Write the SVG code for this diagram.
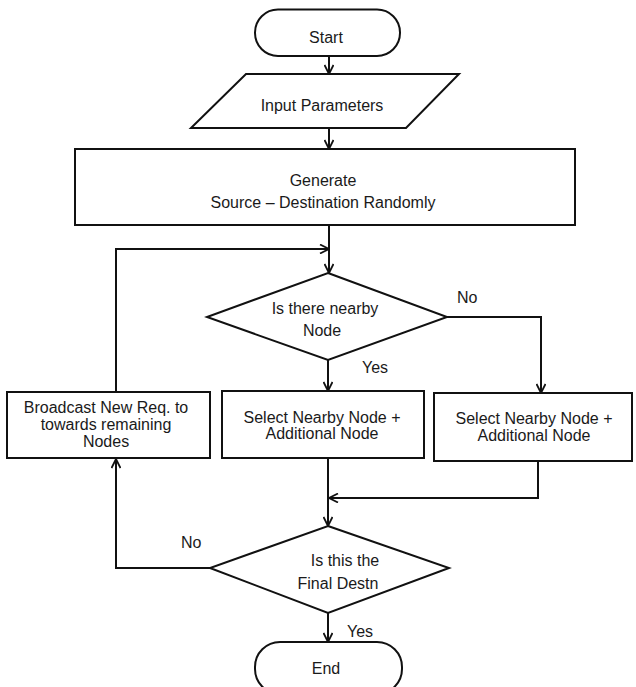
<svg xmlns="http://www.w3.org/2000/svg" width="636" height="687" viewBox="0 0 636 687">
<style>
.shape{fill:#fff;stroke:#111;stroke-width:2}
.conn{fill:none;stroke:#111;stroke-width:2}
text{font-family:"Liberation Sans",Arial,sans-serif;font-size:16px;fill:#1a1a1a;text-anchor:middle}
.lbl{text-anchor:start}
</style>
<defs>
<marker id="arr" viewBox="0 0 10 10" refX="10" refY="5" markerWidth="10" markerHeight="10" markerUnits="userSpaceOnUse" orient="auto">
<path d="M1,0.5 L10,5 L1,9.5" fill="none" stroke="#111" stroke-width="1.8"/>
</marker>
</defs>
<rect width="636" height="687" fill="#fff"/>
<g id="connectors">
<line class="conn" x1="329" y1="56" x2="329" y2="74" marker-end="url(#arr)"/>
<line class="conn" x1="329" y1="128" x2="329" y2="149" marker-end="url(#arr)"/>
<line class="conn" x1="329" y1="225" x2="329" y2="273" marker-end="url(#arr)"/>
<path class="conn" d="M116,392 V249 H329" marker-end="url(#arr)"/>
<line class="conn" x1="328" y1="360" x2="328" y2="391" marker-end="url(#arr)"/>
<path class="conn" d="M447,317 H541 V393" marker-end="url(#arr)"/>
<line class="conn" x1="328" y1="458" x2="328" y2="526" marker-end="url(#arr)"/>
<path class="conn" d="M538,461 V498 H329" marker-end="url(#arr)"/>
<path class="conn" d="M210,568 H116 V459" marker-end="url(#arr)"/>
<line class="conn" x1="328" y1="613" x2="328" y2="642" marker-end="url(#arr)"/>
<text class="lbl" x="457" y="303">No</text>
<text class="lbl" x="362" y="373">Yes</text>
<text class="lbl" x="181" y="548">No</text>
<text class="lbl" x="347" y="637">Yes</text>
</g>
<g id="start">
<rect class="shape" x="255" y="9.5" width="145" height="46.5" rx="23"/>
<text x="326" y="43">Start</text>
</g>
<g id="input">
<polygon class="shape" points="246,74 459,74 406,128 191,128"/>
<text x="322" y="111">Input Parameters</text>
</g>
<g id="generate">
<rect class="shape" x="75" y="149" width="500" height="76"/>
<text x="323" y="186">Generate</text>
<text x="323" y="208">Source – Destination Randomly</text>
</g>
<g id="nearby">
<polygon class="shape" points="328,273 447,317 328,360 207,317"/>
<text x="325" y="314">Is there nearby</text>
<text x="322" y="336">Node</text>
</g>
<g id="broadcast">
<rect class="shape" x="7" y="392" width="203" height="66"/>
<text x="106" y="413">Broadcast New Req. to</text>
<text x="106" y="430">towards remaining</text>
<text x="106" y="447">Nodes</text>
</g>
<g id="select1">
<rect class="shape" x="222" y="391" width="202" height="67"/>
<text x="322" y="423">Select Nearby Node +</text>
<text x="322" y="439">Additional Node</text>
</g>
<g id="select2">
<rect class="shape" x="434" y="393" width="198" height="68"/>
<text x="534" y="424">Select Nearby Node +</text>
<text x="534" y="441">Additional Node</text>
</g>
<g id="final">
<polygon class="shape" points="328,526 449,568 328,613 210,568"/>
<text x="345" y="566">Is this the</text>
<text x="338" y="589">Final Destn</text>
</g>
<g id="end">
<rect class="shape" x="255" y="642" width="147" height="52" rx="25"/>
<text x="326" y="674">End</text>
</g>
</svg>
